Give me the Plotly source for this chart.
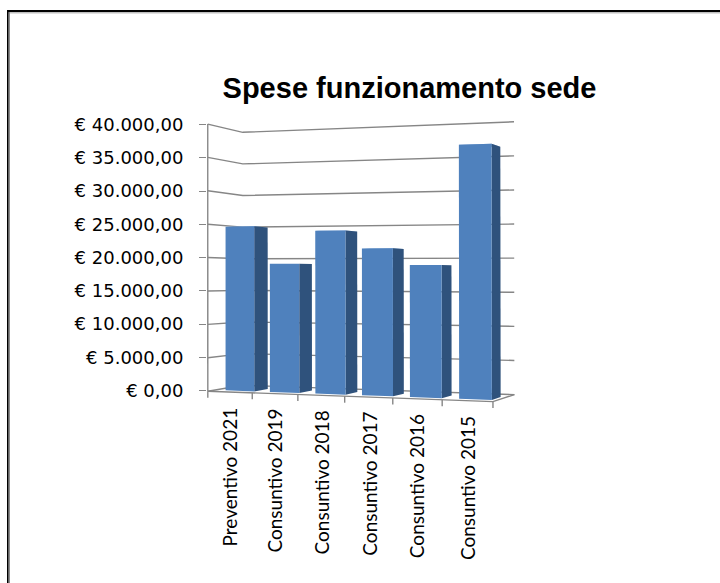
import numpy as np
import plotly.graph_objects as go

# ---- data ----
title_text = "Spese funzionamento sede"
categories = ["Preventivo 2021", "Consuntivo 2019", "Consuntivo 2018",
              "Consuntivo 2017", "Consuntivo 2016", "Consuntivo 2015"]
values = [24700, 19100, 23950, 21300, 18900, 35900]
axis_values = [0, 5000, 10000, 15000, 20000, 25000, 30000, 35000, 40000]
axis_labels = ["€ 0,00", "€ 5.000,00", "€ 10.000,00", "€ 15.000,00", "€ 20.000,00",
               "€ 25.000,00", "€ 30.000,00", "€ 35.000,00", "€ 40.000,00"]

# ---- style / layout ----
W, H = 720, 583
ML, MR, MT, MB = 207, 200, 115, 168
FRONT, SIDE, TOP = "#4F81BD", "#2F527C", "#8DB0DA"
GRID = "#868686"
FONT = "Lato"
VMAX = 40000.0
Y0_PX, PX_PER_EUR = 390.7, 33.275 / 5000
BAR_U = (0.24, 0.89)
BAR_D = (0.2, 0.6)

# perspective of the chart box: (category pos, depth, value/VMAX) -> pixel anchor
n = len(categories)
anchors = [
    ((0, 0, 0), (207.5, 391.0)), ((0, 0, 1), (207.5, 124.5)),
    ((0, 1, 0), (243.0, 385.6)), ((0, 1, 1), (243.0, 132.0)),
    ((n, 1, 0), (514.0, 394.7)), ((n, 1, 1), (514.0, 121.7)),
    ((n, 0, 0), (493.3, 401.7)),
    ((1, 0, 0), (252.3, 392.7)), ((2, 0, 0), (297.7, 394.4)),
    ((3, 0, 0), (345.0, 396.1)), ((4, 0, 0), (393.0, 397.9)),
    ((5, 0, 0), (442.0, 399.8)),
]
rows = []
for (u, d, v), (x, y) in anchors:
    x, y = x / 100, y / 100
    p = [u, d, v, 1]
    rows.append(p + [0, 0, 0, 0] + [-x * c for c in p])
    rows.append([0, 0, 0, 0] + p + [-y * c for c in p])
P = np.linalg.svd(np.array(rows, float))[2][-1].reshape(3, 4)


def proj(u, d, value):
    h = P @ np.array([u, d, value / VMAX, 1.0])
    px, py = h[0] / h[2] * 100, h[1] / h[2] * 100
    return px, (Y0_PX - py) / PX_PER_EUR  # x axis in px, y axis in euro


def y_from_px(py):
    return (Y0_PX - py) / PX_PER_EUR


fig = go.Figure()


def poly(pts, color):
    xs, ys = zip(*(pts + pts[:1]))
    fig.add_trace(go.Scatter(x=xs, y=ys, mode="lines", fill="toself", fillcolor=color,
                             line=dict(width=0, color=color), hoverinfo="skip", showlegend=False))


def line(pts):
    xs, ys = zip(*pts)
    fig.add_trace(go.Scatter(x=xs, y=ys, mode="lines", line=dict(width=1.4, color=GRID),
                             hoverinfo="skip", showlegend=False))


# walls: left wall + back wall gridlines
for v in axis_values:
    line([proj(0, 0, v), proj(0, 1, v), proj(n, 1, v)])
# floor front + right edge, value axis line
line([proj(0, 0, 0), proj(n, 0, 0), proj(n, 1, 0)])
line([proj(0, 0, 0), proj(0, 0, VMAX)])
# category ticks on the front edge
for i in range(n + 1):
    a = proj(i, 0, 0)
    line([a, (a[0], a[1] - 6.5 / PX_PER_EUR)])

# bars
for i, val in enumerate(values):
    u0, u1 = i + BAR_U[0], i + BAR_U[1]
    d0, d1 = BAR_D
    poly([proj(u0, d0, val), proj(u1, d0, val), proj(u1, d1, val), proj(u0, d1, val)], TOP)
    poly([proj(u1, d0, 0), proj(u1, d1, 0), proj(u1, d1, val), proj(u1, d0, val)], SIDE)
    poly([proj(u0, d0, 0), proj(u1, d0, 0), proj(u1, d0, val), proj(u0, d0, val)], FRONT)

# category labels
annotations = []
for i, c in enumerate(categories):
    ax, ay = proj(i + 0.5, 0, 0)
    annotations.append(dict(x=ax, y=ay - 13.0 / PX_PER_EUR, xref="x", yref="y", text=c, showarrow=False,
                            textangle=-90, xanchor="center", yanchor="top",
                            font=dict(family=FONT, size=19, color="#000000")))

# frame (top + left only)
pw, ph = W - ML - MR, H - MT - MB


def fx(px):
    return (px - ML) / pw


def fy(py):
    return 1 - (py - MT) / ph


def frame(x0, y0, x1, y1, color):
    return dict(type="rect", xref="paper", yref="paper", x0=fx(x0), x1=fx(x1), y0=fy(y0), y1=fy(y1),
                fillcolor=color, line=dict(width=0), layer="below")


shapes = [frame(7, 12, W, 13.5, "#BFBFBF"), frame(8.5, 12, 10, H, "#8C8C8C"),
          frame(7, 10, W, 12, "#000000"), frame(7, 10, 8.5, H, "#000000")]

fig.update_layout(
    width=W, height=H, autosize=False,
    margin=dict(l=ML, r=MR, t=MT, b=MB, pad=0),
    paper_bgcolor="#FFFFFF", plot_bgcolor="#FFFFFF", showlegend=False,
    title=dict(text=title_text, font=dict(family="Liberation Sans", size=29, color="#000000", weight="bold"),
               x=fx(409.5), xref="paper", xanchor="center", y=1 - 88 / H, yref="container", yanchor="middle"),
    xaxis=dict(range=[ML, W - MR], showgrid=False, zeroline=False, showline=False,
               showticklabels=False, ticks=""),
    yaxis=dict(range=[y_from_px(H - MB), y_from_px(MT)], tickmode="array", tickvals=axis_values,
               ticktext=axis_labels, showgrid=False, zeroline=False, showline=False,
               ticks="outside", ticklen=7, tickwidth=1.4, tickcolor=GRID, ticklabelstandoff=12,
               tickfont=dict(family="DejaVu Sans", size=18, color="#000000")),
    annotations=annotations, shapes=shapes,
)
fig.write_html("out.html", post_script="document.body.style.margin='0';",
               config={"displayModeBar": False})
